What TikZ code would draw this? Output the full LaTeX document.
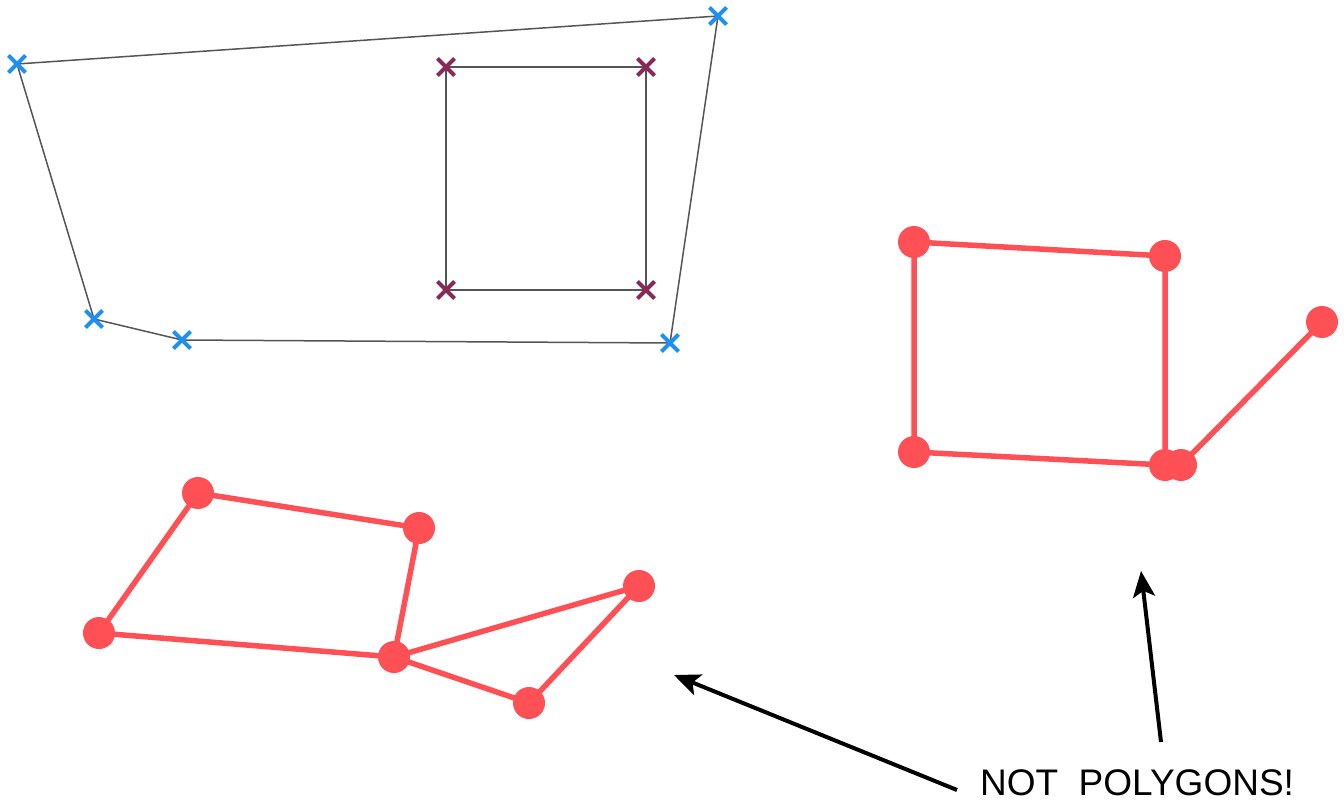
\documentclass[tikz,border=0pt]{standalone}
\usepackage{fontspec}
\setmainfont{Liberation Sans}
\usetikzlibrary{shapes.misc,arrows.meta}
\definecolor{xblue}{HTML}{1E90F0}
\definecolor{xpurple}{HTML}{8A2858}
\definecolor{redp}{HTML}{FF5056}
\definecolor{edgegray}{HTML}{555555}
\tikzset{
  xmark/.style={cross out, draw=#1, line width=3.8pt, minimum size=13pt, inner sep=0pt},
  vtx/.style={circle, fill=redp, minimum size=32pt, inner sep=0pt},
  thin edge/.style={draw=edgegray, line width=1.5pt},
  red edge/.style={draw=redp, line width=5.5pt},
  pointer/.style={draw=black, line width=4pt, -{Stealth[length=26pt,width=22pt,inset=6pt]}}
}
\begin{document}
\begin{tikzpicture}[x=1pt,y=-1pt]
\useasboundingbox (0,0) rectangle (1344,802);
% outer polygon
\node[xmark=xblue] (a) at (17,64) {};
\node[xmark=xblue] (b) at (718,16) {};
\node[xmark=xblue] (c) at (670,343) {};
\node[xmark=xblue] (d) at (182,340) {};
\node[xmark=xblue] (e) at (94,319) {};
\path[thin edge] (a.center) -- (b.center) -- (c.center) -- (d.center) -- (e.center) -- (a.center);
% inner square
\node[xmark=xpurple] (f) at (446,67) {};
\node[xmark=xpurple] (g) at (646,67) {};
\node[xmark=xpurple] (h) at (646,290) {};
\node[xmark=xpurple] (i) at (446,290) {};
\path[thin edge] (f.center) -- (g.center) -- (h.center) -- (i.center) -- (f.center);
% redraw markers on top
\foreach \n/\c in {a/xblue,b/xblue,c/xblue,d/xblue,e/xblue,f/xpurple,g/xpurple,h/xpurple,i/xpurple}
  \node[xmark=\c] at (\n.center) {};
% right red figure
\path[red edge] (914,242) coordinate (p1) -- (1165,256) coordinate (p2) -- (1165,465) coordinate (p3);
\path[red edge] (p1) -- (914,452) coordinate (p6) -- (p3);
\path[red edge] (1181,465) coordinate (p4) -- (1322,322) coordinate (p5);
\foreach \p in {p1,p2,p3,p4,p5,p6} \node[vtx] (n\p) at (\p) {};
% left red figure
\coordinate (q1) at (198,493);
\coordinate (q2) at (419,528);
\coordinate (q3) at (394,657);
\coordinate (q4) at (99,633);
\coordinate (q5) at (639,586);
\coordinate (q6) at (529,703);
\path[red edge] (q1) -- (q2) -- (q3) -- (q4) -- (q1);
\path[red edge] (q3) -- (q5) -- (q6) -- (q3);
\foreach \q in {q1,q2,q3,q4,q5,q6} \node[vtx] (n\q) at (\q) {};
% label and arrows
\node[font=\fontsize{37}{40}\selectfont, anchor=base, inner sep=1pt] (lbl) at (1137,795) {NOT\ \ POLYGONS!};
\coordinate (t1) at (674,675);
\coordinate (t2) at (1141,571);
\draw[pointer] (957,790) -- (t1);
\draw[pointer] (1161,742) -- (t2);
\end{tikzpicture}
\end{document}
